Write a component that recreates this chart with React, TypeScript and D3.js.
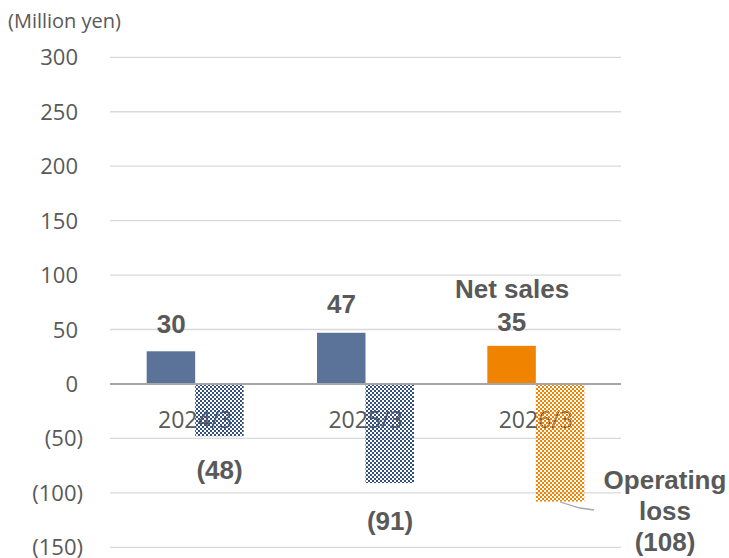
import React from "react";
import * as d3 from "d3";

const categories = ["2024/3", "2025/3", "2026/3"];
const netSales = [30, 47, 35];
const operatingLoss = [-48, -91, -108];
const yTicks = [300, 250, 200, 150, 100, 50, 0, -50, -100, -150];

const W = 729;
const H = 558;

export default function App() {
  const y = d3.scaleLinear().domain([-150, 300]).range([547.3, 57.3]);
  const x = d3.scaleBand().domain(categories).range([110, 621]);
  const barW = 48.5;
  const fmt = (v: number) => (v < 0 ? `(${Math.abs(v)})` : `${v}`);
  const blue = "#5b7399";
  const orange = "#f08400";
  const labelFont = "'Liberation Sans', Arial, sans-serif";
  const tickFont = "'Open Sans', 'Noto Sans', sans-serif";
  const gray = "#595959";
  const cx = (c: string) => (x(c) as number) + x.bandwidth() / 2;
  const bold = { fontFamily: labelFont, fontWeight: "bold" as const, fontSize: 26, fill: gray, textAnchor: "middle" as const };

  return (
    <svg width={W} height={H} style={{ position: "absolute", left: 0, top: 0 }}>
      <defs>
        <pattern id="pBlue" width={4} height={4} patternUnits="userSpaceOnUse">
          <rect width={2} height={2} fill="#34507f" />
          <rect x={2} y={2} width={2} height={2} fill="#34507f" />
        </pattern>
        <pattern id="pOrange" width={4} height={4} patternUnits="userSpaceOnUse">
          <rect width={2} height={2} fill={orange} />
          <rect x={2} y={2} width={2} height={2} fill={orange} />
        </pattern>
      </defs>
      <rect width={W} height={H} fill="#fff" />
      <text x={8} y={28} fontFamily={tickFont} fontSize={20} fill={gray}>
        (Million yen)
      </text>
      {yTicks.map((t) => (
        <g key={t}>
          {t !== 0 && (
            <line x1={110} x2={621} y1={y(t)} y2={y(t)} stroke="#d9d9d9" strokeWidth={1.3} />
          )}
          <text
            x={t < 0 ? 83 : 78}
            y={y(t) + 8}
            textAnchor="end"
            fontFamily={tickFont}
            fontSize={22}
            fill={gray}
          >
            {fmt(t)}
          </text>
        </g>
      ))}
      {categories.map((c) => (
        <text
          key={c}
          x={cx(c)}
          y={428}
          textAnchor="middle"
          fontFamily={tickFont}
          fontSize={23}
          fill={gray}
        >
          {c}
        </text>
      ))}
      {categories.map((c, i) => {
        const last = i === categories.length - 1;
        return (
          <g key={"b" + c}>
            <rect
              x={cx(c) - barW}
              y={y(netSales[i])}
              width={barW}
              height={y(0) - y(netSales[i])}
              fill={last ? orange : blue}
            />
            <rect
              x={cx(c)}
              y={y(0)}
              width={barW}
              height={y(operatingLoss[i]) - y(0)}
              fill={last ? "url(#pOrange)" : "url(#pBlue)"}
            />
          </g>
        );
      })}
      <line x1={110} x2={621} y1={y(0)} y2={y(0)} stroke="#a6a6a6" strokeWidth={2} />
      {/* Net sales labels */}
      <text x={cx(categories[0]) - 24} y={333} {...bold}>{fmt(netSales[0])}</text>
      <text x={cx(categories[1]) - 24} y={313} {...bold}>{fmt(netSales[1])}</text>
      <text x={512} y={298} {...bold}>Net sales</text>
      <text x={cx(categories[2]) - 24} y={331} {...bold}>{fmt(netSales[2])}</text>
      {/* Operating loss labels */}
      <text x={219.5} y={479} {...bold}>{fmt(operatingLoss[0])}</text>
      <text x={390} y={530} {...bold}>{fmt(operatingLoss[1])}</text>
      <text x={665} y={489} {...bold}>Operating</text>
      <text x={665} y={520} {...bold}>loss</text>
      <text x={665} y={551} {...bold}>{fmt(operatingLoss[2])}</text>
      <polyline points="560,502 580,508 594,510" fill="none" stroke="#a6a6a6" strokeWidth={1.3} />
    </svg>
  );
}
